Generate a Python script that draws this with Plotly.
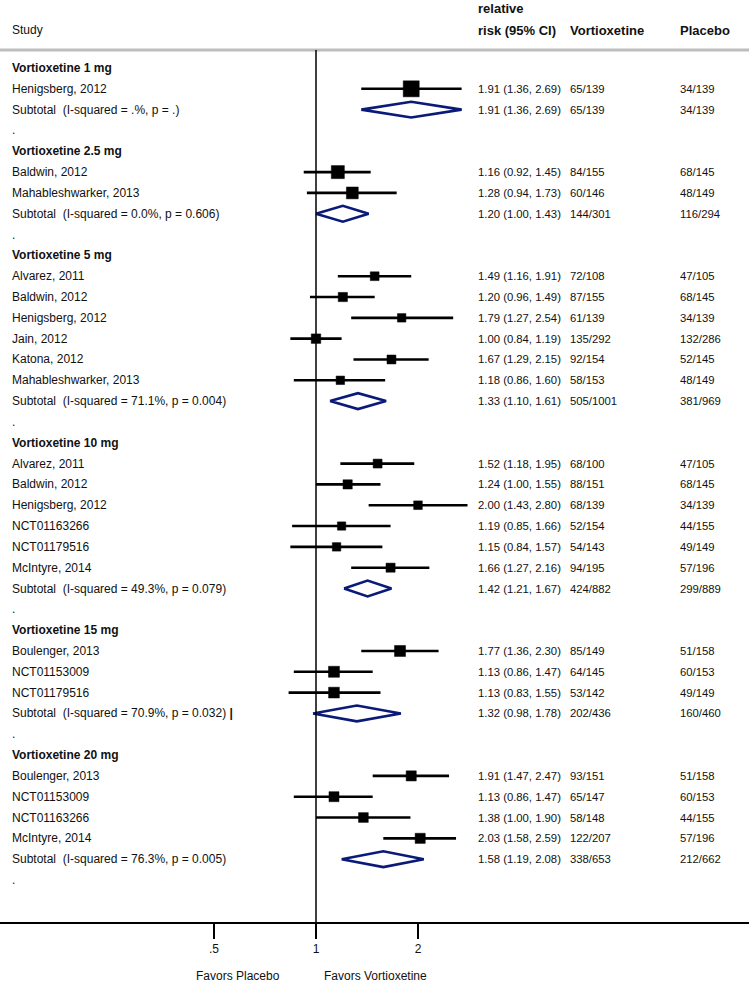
import math
import plotly.graph_objects as go

# ---------------- data ----------------
labels = [
    "Vortioxetine 1 mg", "Henigsberg, 2012", "Subtotal  (I-squared = .%, p = .)", ".",
    "Vortioxetine 2.5 mg", "Baldwin, 2012", "Mahableshwarker, 2013", "Subtotal  (I-squared = 0.0%, p = 0.606)", ".",
    "Vortioxetine 5 mg", "Alvarez, 2011", "Baldwin, 2012", "Henigsberg, 2012", "Jain, 2012", "Katona, 2012",
    "Mahableshwarker, 2013", "Subtotal  (I-squared = 71.1%, p = 0.004)", ".",
    "Vortioxetine 10 mg", "Alvarez, 2011", "Baldwin, 2012", "Henigsberg, 2012", "NCT01163266", "NCT01179516",
    "McIntyre, 2014", "Subtotal  (I-squared = 49.3%, p = 0.079)", ".",
    "Vortioxetine 15 mg", "Boulenger, 2013", "NCT01153009", "NCT01179516", "Subtotal  (I-squared = 70.9%, p = 0.032)", ".",
    "Vortioxetine 20 mg", "Boulenger, 2013", "NCT01153009", "NCT01163266", "McIntyre, 2014",
    "Subtotal  (I-squared = 76.3%, p = 0.005)", ".",
]
kinds = [
    "h", "s", "t", "b",
    "h", "s", "s", "t", "b",
    "h", "s", "s", "s", "s", "s", "s", "t", "b",
    "h", "s", "s", "s", "s", "s", "s", "t", "b",
    "h", "s", "s", "s", "t", "b",
    "h", "s", "s", "s", "s", "t", "b",
]
rr = [
    None, 1.91, 1.91, None,
    None, 1.16, 1.28, 1.20, None,
    None, 1.49, 1.20, 1.79, 1.00, 1.67, 1.18, 1.33, None,
    None, 1.52, 1.24, 2.00, 1.19, 1.15, 1.66, 1.42, None,
    None, 1.77, 1.13, 1.13, 1.32, None,
    None, 1.91, 1.13, 1.38, 2.03, 1.58, None,
]
ci_lo = [
    None, 1.36, 1.36, None,
    None, 0.92, 0.94, 1.00, None,
    None, 1.16, 0.96, 1.27, 0.84, 1.29, 0.86, 1.10, None,
    None, 1.18, 1.00, 1.43, 0.85, 0.84, 1.27, 1.21, None,
    None, 1.36, 0.86, 0.83, 0.98, None,
    None, 1.47, 0.86, 1.00, 1.58, 1.19, None,
]
ci_hi = [
    None, 2.69, 2.69, None,
    None, 1.45, 1.73, 1.43, None,
    None, 1.91, 1.49, 2.54, 1.19, 2.15, 1.60, 1.61, None,
    None, 1.95, 1.55, 2.80, 1.66, 1.57, 2.16, 1.67, None,
    None, 2.30, 1.47, 1.55, 1.78, None,
    None, 2.47, 1.47, 1.90, 2.59, 2.08, None,
]
vort_n = [
    "", "65/139", "65/139", "",
    "", "84/155", "60/146", "144/301", "",
    "", "72/108", "87/155", "61/139", "135/292", "92/154", "58/153", "505/1001", "",
    "", "68/100", "88/151", "68/139", "52/154", "54/143", "94/195", "424/882", "",
    "", "85/149", "64/145", "53/142", "202/436", "",
    "", "93/151", "65/147", "58/148", "122/207", "338/653", "",
]
plac_n = [
    "", "34/139", "34/139", "",
    "", "68/145", "48/149", "116/294", "",
    "", "47/105", "68/145", "34/139", "132/286", "52/145", "48/149", "381/969", "",
    "", "47/105", "68/145", "34/139", "44/155", "49/149", "57/196", "299/889", "",
    "", "51/158", "60/153", "49/149", "160/460", "",
    "", "51/158", "60/153", "44/155", "57/196", "212/662", "",
]
# estimated study weights (%) within subgroup
weights = [
    None, 100, None, None,
    None, 57, 43, None, None,
    None, 16, 19, 14, 21, 17, 14, None, None,
    None, 17, 19, 15, 13, 14, 18, None, None,
    None, 34, 34, 32, None, None,
    None, 26, 25, 23, 26, None, None,
]
tick_vals = [0.5, 1, 2]
tick_text = [".5", "1", "2"]

# ---------------- figure ----------------
FONT = "Liberation Sans, Arial, sans-serif"
TXT = "#111111"
NAVY = "#0a1a78"
FS = 12
FS_NUM = 11.3
FS_HEAD = 13
W, H = 749, 987
MB = 65

fig = go.Figure()

# CI lines
cx, cy = [], []
for i, k in enumerate(kinds):
    if k == "s":
        cx += [ci_lo[i], ci_hi[i], None]
        cy += [i, i, None]
fig.add_trace(go.Scatter(x=cx, y=cy, mode="lines", line=dict(color="black", width=2.6),
                         hoverinfo="skip", showlegend=False))

# squares
sx, sy, ss = [], [], []
for i, k in enumerate(kinds):
    if k == "s":
        sx.append(rr[i]); sy.append(i)
        ss.append(4 + 12 * math.sqrt(weights[i] / 100.0))
fig.add_trace(go.Scatter(x=sx, y=sy, mode="markers",
                         marker=dict(symbol="square", size=ss, color="black", opacity=1,
                                     line=dict(width=0.5, color="black")),
                         hoverinfo="skip", showlegend=False))

# diamonds
dx, dy = [], []
hh = 0.38
for i, k in enumerate(kinds):
    if k == "t":
        dx += [ci_lo[i], rr[i], ci_hi[i], rr[i], ci_lo[i], None]
        dy += [i, i - hh, i, i + hh, i, None]
fig.add_trace(go.Scatter(x=dx, y=dy, mode="lines", line=dict(color=NAVY, width=2.6),
                         hoverinfo="skip", showlegend=False))

# text annotations
ann = []
def add_text(xpx, y, text, bold=False, anchor="left", size=FS):
    ann.append(dict(x=xpx / W, xref="paper", y=y, yref="y", text=("<b>%s</b>" % text) if bold else text,
                    showarrow=False, xanchor=anchor, yanchor="middle",
                    font=dict(family=FONT, size=size, color=TXT)))

for i, k in enumerate(kinds):
    lab = labels[i]
    if k == "h":
        add_text(10, i, lab, bold=True)
    else:
        if lab.startswith("Subtotal  (I-squared = 70.9%"):
            lab = lab + " <b>|</b>"
        add_text(10, i, lab)
    if k in ("s", "t"):
        add_text(476, i, "%.2f (%.2f, %.2f)" % (rr[i], ci_lo[i], ci_hi[i]), size=FS_NUM)
        add_text(568, i, vort_n[i], size=FS_NUM)
        add_text(678, i, plac_n[i], size=FS_NUM)

row0, step = 68.0, 20.82
def py2row(p):
    return (p - row0) / step

add_text(476, py2row(8), "relative", bold=True, size=FS_HEAD)
add_text(476, py2row(30), "risk (95% CI)", bold=True, size=FS_HEAD)
add_text(568, py2row(30), "Vortioxetine", bold=True, size=FS_HEAD)
add_text(678, py2row(30), "Placebo", bold=True, size=FS_HEAD)
add_text(10, py2row(30), "Study")

for txt, cxp in [("Favors Placebo", 238), ("Favors Vortioxetine", 375)]:
    ann.append(dict(x=cxp / W, xref="paper", y=-(976 - (H - MB)) / (H - MB), yref="paper",
                    text=txt, showarrow=False, xanchor="center", yanchor="middle",
                    font=dict(family=FONT, size=FS, color=TXT)))

# shapes: header rule and null line
plot_h = H - MB
y_top = py2row(0)
y_bot = py2row(plot_h)
line_y = py2row(50)
shapes = [
    dict(type="line", xref="paper", yref="y", x0=0, x1=1, y0=line_y, y1=line_y,
         line=dict(color="#bdbdbd", width=3)),
    dict(type="line", xref="x", yref="y", x0=1, x1=1, y0=line_y, y1=y_bot,
         line=dict(color="black", width=1.5)),
]

px_per_log2 = 102.0
x_left = (0 - 316) / px_per_log2 * math.log10(2)
x_right = (W - 316) / px_per_log2 * math.log10(2)

fig.update_layout(
    width=W, height=H,
    margin=dict(l=0, r=0, t=0, b=MB),
    paper_bgcolor="white", plot_bgcolor="white",
    annotations=ann, shapes=shapes,
    xaxis=dict(type="log", range=[x_left, x_right], tickvals=tick_vals, ticktext=tick_text,
               ticks="outside", ticklen=15, tickwidth=2, tickcolor="black",
               showline=True, linecolor="black", linewidth=2, showgrid=False, zeroline=False,
               tickfont=dict(family=FONT, size=FS, color=TXT), fixedrange=True),
    yaxis=dict(range=[y_bot, y_top], visible=False, fixedrange=True),
    font=dict(family=FONT, size=FS, color=TXT),
)

fig.write_html("out.html", config={"displayModeBar": False},
               post_script="document.body.style.margin='0';document.body.style.overflow='hidden';")
